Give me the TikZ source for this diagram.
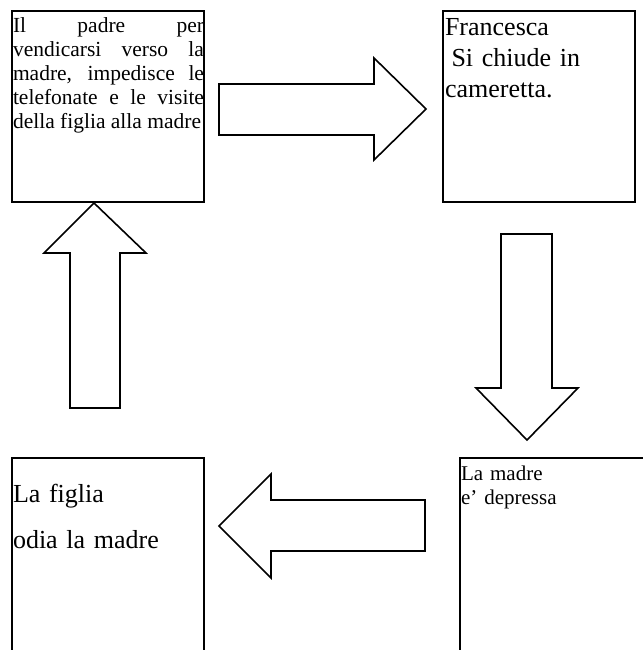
\documentclass[tikz,border=0pt]{standalone}
\usepackage{fontspec}
\setmainfont{Liberation Serif}
\begin{document}
\begin{tikzpicture}[x=1bp,y=-1bp,
  box/.style={draw,line width=1.8bp,inner sep=0pt,outer sep=0pt,anchor=north west},
  boxtext/.style={inner sep=0pt,outer sep=0pt,anchor=base west,text width=188bp,align=left},
  blockarrow/.style={draw,line width=1.6bp,line join=miter}]
\clip (0,0) rectangle (643,650);
\fill[white] (0,0) rectangle (643,650);
% boxes
\node[box,minimum width=192bp,minimum height=191bp] (b1) at (12,11) {};
\node[box,minimum width=192bp,minimum height=191bp] (b2) at (443,11) {};
\node[box,minimum width=192bp,minimum height=212bp] (b3) at (12,458) {};
\node[box,minimum width=200bp,minimum height=212bp] (b4) at (460,458) {};
% texts
\node[boxtext,text width=191bp,align=justify,font={\fontsize{21.5bp}{23.8bp}\selectfont}] (t1) at (13,33)
  {Il padre per\linebreak vendicarsi verso la\linebreak madre, impedisce le\linebreak telefonate e le visite\linebreak della figlia alla madre};
\node[boxtext,font={\fontsize{26bp}{31bp}\selectfont}] (t2) at (445,36)
  {Francesca\\\hspace*{0.25em}Si chiude in\\cameretta.};
\node[boxtext,font={\fontsize{26bp}{46bp}\selectfont}] (t3) at (13,502)
  {La figlia\\odia la madre};
\node[boxtext,text width=178bp,font={\fontsize{21bp}{24bp}\selectfont}] (t4) at (461,480)
  {La madre\\e’ depressa};
% block arrows
\draw[blockarrow] (219,84) -- (374,84) -- (374,58) -- (426,109) -- (374,160) -- (374,135) -- (219,135) -- cycle;
\draw[blockarrow] (501,234) -- (552,234) -- (552,388) -- (578,388) -- (527,440) -- (476,388) -- (501,388) -- cycle;
\draw[blockarrow] (425,500) -- (271,500) -- (271,474) -- (219,526) -- (271,578) -- (271,551) -- (425,551) -- cycle;
\draw[blockarrow] (70,408) -- (70,253) -- (44,253) -- (94,203) -- (146,253) -- (120,253) -- (120,408) -- cycle;
\end{tikzpicture}
\end{document}
